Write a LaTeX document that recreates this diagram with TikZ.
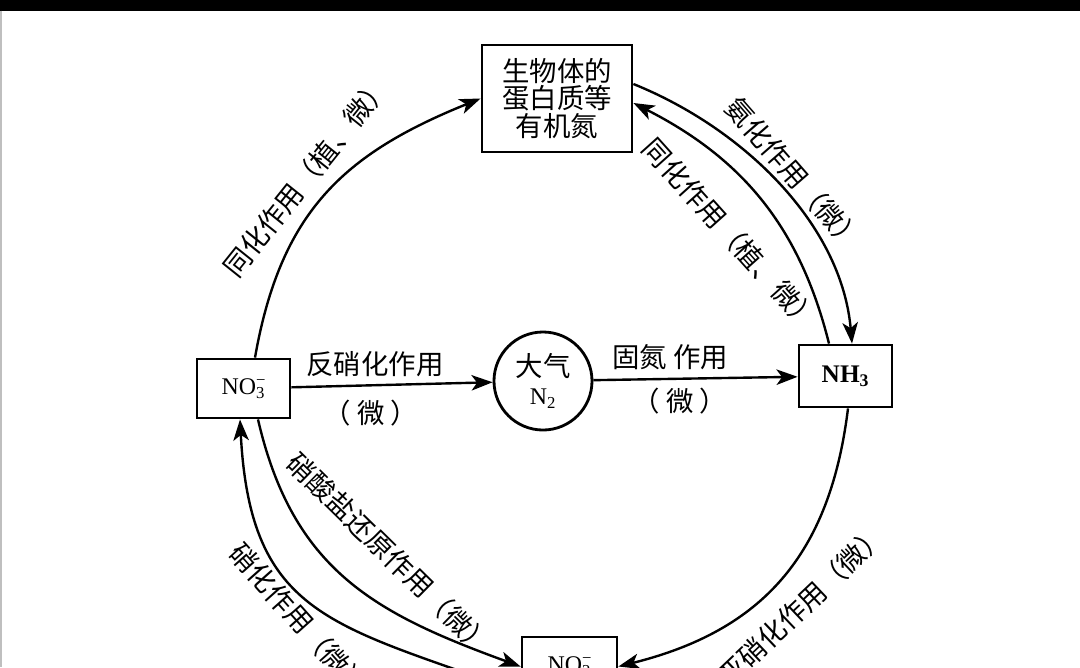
\documentclass[tikz,border=0pt]{standalone}
\usepackage{fontspec}
\setmainfont{Liberation Serif}
\newfontfamily\cjk{Noto Sans CJK SC}
\usetikzlibrary{arrows.meta,calc}
\begin{document}
\begin{tikzpicture}[x=0.025cm,y=0.025cm,
  box/.style={draw, line width=2pt, inner sep=0pt},
  conn/.style={line width=1.7pt, -{Stealth[length=15pt,width=11pt,inset=4pt]}},
  lab/.style={font=\cjk\fontsize{19.5}{22}\selectfont, inner sep=0pt},
]
\useasboundingbox (0,0) rectangle (1080,-667);
\clip (0,0) rectangle (1080,-667);
\fill[white] (0,0) rectangle (1080,-667);
\fill[black] (0,0) rectangle (1080,-10.5);
\draw[gray!50, line width=1.2pt] (1,-10.5) -- (1,-667);

% nodes
\node[box, minimum width=3.75cm, minimum height=2.675cm, align=center,
      font=\cjk\fontsize{19.5}{19.8}\selectfont] (org) at (557,-98.5) {生物体的\\蛋白质等\\有机氮};
\node[box, minimum width=2.325cm, minimum height=1.475cm,
      font=\fontsize{17}{20}\selectfont] (no3) at (243.5,-388.5) {NO\rlap{\textsuperscript{−}}\textsubscript{3}};
\node[box, minimum width=2.325cm, minimum height=1.55cm,
      font=\bfseries\fontsize{18}{20}\selectfont] (nh3) at (845.5,-376) {NH\textsubscript{3}};
\node[box, minimum width=2.375cm, minimum height=1.475cm,
      font=\fontsize{17}{20}\selectfont] (no2) at (569.5,-666.5) {NO\rlap{\textsuperscript{−}}\textsubscript{2}};
\node[draw, circle, line width=2pt, minimum size=2.45cm, inner sep=0pt, align=center] (n2) at (543,-381)
  {{\cjk\fontsize{19.5}{20}\selectfont 大气}\\[6pt]{\fontsize{17}{20}\selectfont N\textsubscript{2}}};

% straight arrows
\draw[conn] (no3) -- (n2);
\draw[conn] (n2) -- (nh3);
\node[lab] (dn) at (375,-364) {反硝化作用};
\node[lab] (dnw) at (371,-413) {（ 微 ）};
\node[lab] (fx) at (670,-357) {固氮 作用};
\node[lab] (fxw) at (680,-401) {（ 微 ）};

% curved connectors
\draw[conn] ($(no3.north)+(11.5,0)$) to[out=80,in=202,looseness=1.1] (org.west);
\draw[conn] ($(org.east)+(0,14.5)$) to[out=-22,in=95,looseness=0.9] ($(nh3.north)+(6.5,0)$);
\draw[conn] ($(nh3.north)+(-16.5,0)$) to[out=104,in=-27] ($(org.east)+(0,-4.5)$);
\draw[conn] ($(nh3.south)+(2.5,0)$) to[out=263,in=14,looseness=1.1] (no2.east);
\draw[conn] ($(no3.south)+(14.5,0)$) to[out=-77,in=160,looseness=1.1] (no2.west);
\draw[conn] ($(no2.west)+(0,-26)$) to[out=160,in=-87,looseness=1.3] ($(no3.south)+(-3.5,0)$);

% arc labels
\node[lab, rotate=51.3] (l1) at (306.5,-176.5) {同化作用（植、微）};
\node[lab, rotate=-48.9] (l2) at (794.5,-174) {氨化作用（微）};
\node[lab, rotate=-48.1] (l3) at (731,-234.5) {同化作用（植、微）};
\node[lab, rotate=-44.5] (l4) at (390,-554) {硝酸盐还原作用（微）};
\node[lab, rotate=-48.3] (l5) at (299,-619) {硝化作用（微）};
\node[lab, rotate=43.5] (l6) at (802,-605.5) {亚硝化作用（微）};
\end{tikzpicture}
\end{document}
